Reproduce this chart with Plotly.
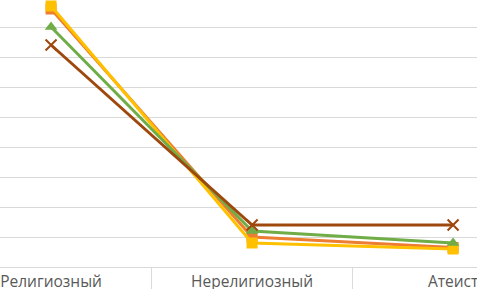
import plotly.graph_objects as go

categories = ["Религиозный", "Нерелигиозный", "Атеист"]
series_names = ["Ряд 2", "Ряд 4", "Ряд 6", "Ряд 8"]
orange_vals = [86, 10, 6.5]
yellow_vals = [87, 8, 6]
green_vals = [80, 12, 8]
brown_vals = [74, 14, 14]

colors = ["#ED7D31", "#FFC000", "#70AD47", "#9E480E"]
symbols = ["square", "square", "triangle-up", "x-thin"]
values = [orange_vals, yellow_vals, green_vals, brown_vals]

fig = go.Figure()
for name, vals, col, sym in zip(series_names, values, colors, symbols):
    marker = dict(symbol=sym, size=11, color=col)
    if sym == "x-thin":
        marker = dict(symbol=sym, size=11, color=col, line=dict(color=col, width=2))
    fig.add_trace(go.Scatter(
        x=categories, y=vals, mode="lines+markers", name=name,
        line=dict(color=col, width=3), marker=marker, cliponaxis=False,
    ))

# category separators below the axis
for b in [0.5, 1.5]:
    fig.add_shape(type="line", xref="x", yref="paper", x0=b, x1=b, y0=0, y1=-0.09,
                  line=dict(color="#D9D9D9", width=1))

fig.update_layout(
    width=477, height=289,
    margin=dict(l=0, r=0, t=0, b=22, pad=0),
    paper_bgcolor="white", plot_bgcolor="white",
    showlegend=False,
    font=dict(family="Open Sans", size=15.5, color="#595959"),
)
fig.update_xaxes(
    type="category", range=[-0.254, 2.119], automargin=False,
    showgrid=False, showline=True, linecolor="#D9D9D9", linewidth=1,
    ticks="", tickfont=dict(size=15.5, color="#595959"),
)
fig.update_yaxes(
    range=[0, 89], dtick=10, showgrid=True, gridcolor="#D9D9D9", gridwidth=1,
    showticklabels=False, zeroline=False, showline=False, automargin=False,
)

fig.write_html(
    "out.html",
    config={"displayModeBar": False},
    post_script="document.body.style.margin='0';document.body.style.overflow='hidden';",
)
